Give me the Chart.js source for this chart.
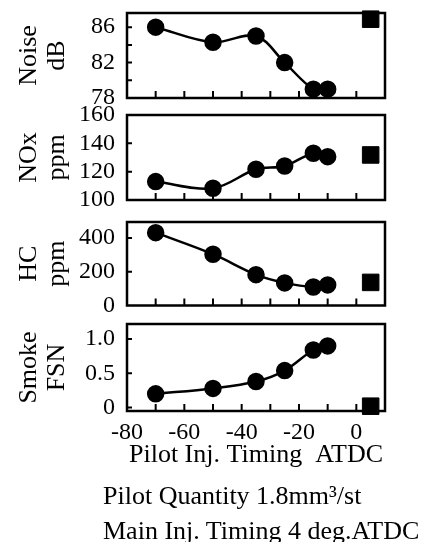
<!DOCTYPE html>
<html>
<head>
<meta charset="utf-8">
<script src="https://cdn.jsdelivr.net/npm/chart.js@4.4.1/dist/chart.umd.min.js"></script>
<style>
  html, body { margin: 0; padding: 0; background: #fff; }
  #wrap { position: relative; width: 428px; height: 542px; overflow: hidden; }
  #wrap canvas { position: absolute; left: 0; top: 0; }
  .note { position: absolute; left: 103px; font: 26px "Liberation Serif", "Times New Roman", serif; color: #000; white-space: nowrap; line-height: 1; }
</style>
</head>
<body>
<div id="wrap">
  <canvas id="noise" width="428" height="542"></canvas>
  <canvas id="nox" width="428" height="542"></canvas>
  <canvas id="hc" width="428" height="542"></canvas>
  <canvas id="smoke" width="428" height="542"></canvas>
  <div class="note" style="top:483px">Pilot Quantity 1.8mm³/st</div>
  <div class="note" style="top:518px">Main Inj. Timing 4 deg.ATDC</div>
</div>
<script>
// Pilot injection timing sweep (deg ATDC) and the main-only reference point
const pilotTiming = [-70, -50, -35, -25, -15, -10];
const mainOnlyTiming = [5];

const noiseDb = [86, 84.3, 85, 82, 79, 79];
const noxPpm = [113, 108.3, 121.7, 124, 133, 130.6];
const hcPpm = [432, 304, 183, 134, 110, 122];
const smokeFsn = [0.2, 0.28, 0.38, 0.54, 0.84, 0.9];

const noiseMainOnly = [86.9];
const noxMainOnly = [131.8];
const hcMainOnly = [137];
const smokeMainOnly = [0.02];

// axis ticks
const xTicks = [-80, -70, -60, -50, -40, -30, -20, -10, 0, 10];
const xTickLabels = [-80, -60, -40, -20, 0];
const noiseTicks = [78, 80, 82, 84, 86];
const noiseTickLabels = [78, 82, 86];
const noxTicks = [100, 120, 140, 160];
const hcTicks = [0, 200, 400];
const smokeTicks = [0, 0.5, 1.0];

const SERIF = '"Liberation Serif", "Times New Roman", serif';

// frame + short inward tick marks
const frameAndTicks = {
  id: 'frameAndTicks',
  beforeDatasetsDraw(chart) {
    const { ctx, chartArea: a, scales } = chart;
    ctx.save();
    ctx.strokeStyle = '#000';
    ctx.lineWidth = 2;
    ctx.beginPath();
    scales.x.ticks.forEach((t) => {
      const px = scales.x.getPixelForValue(t.value);
      if (px <= a.left + 1 || px >= a.right - 1) return;
      ctx.moveTo(px, a.bottom);
      ctx.lineTo(px, a.bottom - 7);
    });
    scales.y.ticks.forEach((t) => {
      const py = scales.y.getPixelForValue(t.value);
      if (py <= a.top + 1 || py >= a.bottom - 1) return;
      ctx.moveTo(a.left, py);
      ctx.lineTo(a.left + 5, py);
    });
    ctx.stroke();
    ctx.lineWidth = 2.5;
    ctx.strokeRect(a.left, a.top, a.right - a.left, a.bottom - a.top);
    ctx.restore();
  },
};

function makePanel(id, opts) {
  const { title, values, mainOnly, yMin, yMax, yTicks, yLabel, top, bottom, showX } = opts;
  const xHeight = showX ? 60 : 0;
  return new Chart(document.getElementById(id), {
    type: 'line',
    data: {
      datasets: [
        {
          data: pilotTiming.map((x, i) => ({ x, y: values[i] })),
          borderColor: '#000', backgroundColor: '#000', borderWidth: 2.5,
          tension: 0.35, pointRadius: 7.5, pointStyle: 'circle', clip: false,
        },
        {
          data: mainOnlyTiming.map((x, i) => ({ x, y: mainOnly[i] })),
          showLine: false, borderColor: '#000', backgroundColor: '#000',
          pointRadius: 11.7, pointStyle: 'rect', clip: false,
        },
      ],
    },
    options: {
      responsive: false, animation: false,
      layout: { padding: { top, bottom: 542 - bottom - xHeight, left: 0, right: 43 } },
      scales: {
        x: {
          type: 'linear', min: -80, max: 10,
          grid: { display: false, drawTicks: false }, border: { display: false },
          afterBuildTicks(scale) { scale.ticks = xTicks.map((v) => ({ value: v })); },
          afterFit(scale) { scale.height = xHeight; scale.paddingLeft = 0; scale.paddingRight = 0; },
          ticks: {
            display: showX, padding: 7, color: '#000', maxRotation: 0, autoSkip: false,
            font: { family: SERIF, size: 24 },
            callback: (v) => (xTickLabels.includes(v) ? String(v) : ''),
          },
          title: {
            display: showX, text: 'Pilot Inj. Timing  ATDC', color: '#000',
            font: { family: SERIF, size: 26 }, padding: { top: 0, bottom: 0 },
          },
        },
        y: {
          type: 'linear', min: yMin, max: yMax,
          grid: { display: false, drawTicks: false }, border: { display: false },
          afterBuildTicks(scale) { scale.ticks = yTicks.map((v) => ({ value: v })); },
          afterFit(scale) { scale.width = 127; scale.paddingTop = 0; scale.paddingBottom = 0; },
          ticks: {
            padding: 12, color: '#000', autoSkip: false,
            font: { family: SERIF, size: 24 },
            callback: yLabel,
          },
          title: {
            display: true, text: title, color: '#000',
            font: { family: SERIF, size: 26, lineHeight: 1.05 }, padding: { top: 16, bottom: 0 },
          },
        },
      },
      plugins: { legend: { display: false }, tooltip: { enabled: false } },
    },
    plugins: [frameAndTicks],
  });
}

makePanel('noise', {
  title: ['Noise', 'dB'], values: noiseDb, mainOnly: noiseMainOnly,
  yMin: 78, yMax: 87.6, yTicks: noiseTicks,
  yLabel: (v) => (noiseTickLabels.includes(v) ? String(v) : ''),
  top: 13, bottom: 98, showX: false,
});
makePanel('nox', {
  title: ['NOx', 'ppm'], values: noxPpm, mainOnly: noxMainOnly,
  yMin: 100, yMax: 160, yTicks: noxTicks, yLabel: (v) => String(v),
  top: 115, bottom: 200, showX: false,
});
makePanel('hc', {
  title: ['HC', 'ppm'], values: hcPpm, mainOnly: hcMainOnly,
  yMin: 0, yMax: 495, yTicks: hcTicks, yLabel: (v) => String(v),
  top: 222, bottom: 305.5, showX: false,
});
makePanel('smoke', {
  title: ['Smoke', 'FSN'], values: smokeFsn, mainOnly: smokeMainOnly,
  yMin: -0.05, yMax: 1.22, yTicks: smokeTicks,
  yLabel: (v) => (v === 0 ? '0' : v.toFixed(1)),
  top: 324, bottom: 411, showX: true,
});
</script>
</body>
</html>
